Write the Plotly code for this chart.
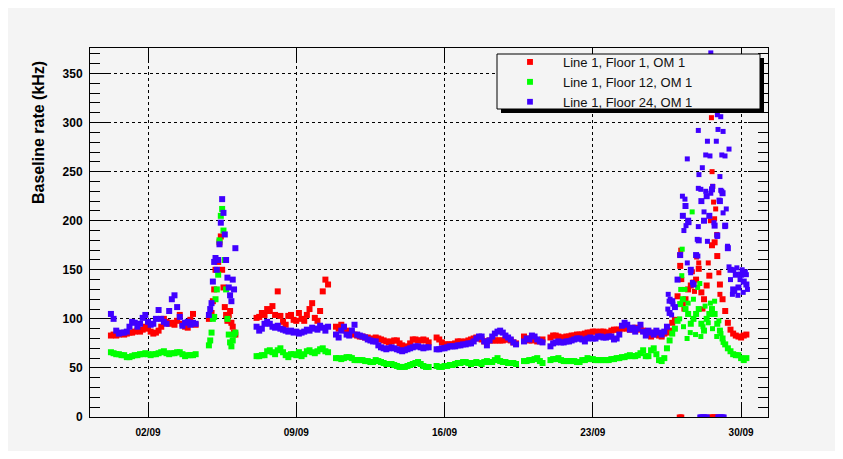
import pandas as pd
import plotly.graph_objects as go

# ---------------- data (days since 31/08 00:00) ----------------
BASE = pd.Timestamp("2006-08-31")
STEP = 0.125          # 3-hour sampling
STEP_SPIKE = 0.0625   # 1.5-hour sampling in the 05/09 burst

start_a, start_b, start_c, start_d = 0.25, 4.875, 7.125, 10.875
start_e, start_f, start_g, start_h = 15.625, 19.75, 21.0, 25.625

# Line 1, Floor 1, OM 1 (red)
f1_a = [83, 84, 83, 84, 85, 84, 85, 86, 86, 87, 88, 87, 89, 92, 90, 87, 85, 86, 88, 92,
        100, 97, 95, 96, 94, 98, 104, 95, 92, 91, 99, 105, 94]
f1_b = [100, 104, 106, 118, 130, 150, 160, 158, 178, 184, 150, 132, 112, 104, 98, 104, 108, 96, 92, 86, 84]
f1_c = [101, 102, 106, 104, 110, 108, 113, 104, 128, 103, 97, 94, 103, 104, 99, 98, 106, 100, 98, 104,
        110, 116, 101, 98, 108, 128, 140, 135]
f1_d = [92, 90, 94, 91, 88, 86, 85, 84, 83, 82, 82, 81, 81, 80, 78, 81, 80, 79, 78, 77,
        76, 77, 78, 78, 75, 73, 71, 72, 75, 79, 79, 78, 78, 79, 78, 76]
f1_e = [81, 79, 76, 74, 74, 74, 74, 75, 77, 77, 76, 77, 78, 79, 80, 81, 80, 79, 77, 77,
        78, 78, 78, 78, 78, 78, 79, 79, 78, 76, 75]
f1_f = [82, 80, 78, 78, 79, 77, 78, 79]
f1_g = [81, 83, 83, 82, 81, 81, 82, 82, 83, 83, 84, 84, 84, 85, 86, 86, 87, 87, 86, 87,
        87, 86, 86, 88, 89, 89, 89, 90, 91, 90, 89, 90, 91, 90, 89, 88, 87]
f1_h = [84, 82, 86, 84, 83, 82, 85, 86, 88, 96, 99, 123, 154, 116, 120, 130, 134, 137, 140, 151,
        127, 120, 134, 144, 175, 178, 164, 135, 120, 108, 96, 89, 85, 83, 82, 81, 83, 84]
f1_extra_t = [27.1, 27.15, 27.2, 27.3, 27.7, 27.8, 27.9, 28.0, 28.2, 28.45, 28.55, 28.6, 28.63,
              28.66, 28.7, 28.75, 28.8, 28.85, 28.95, 29.0,
              27.08, 27.15, 27.2, 28.56, 28.62, 28.68, 28.74, 28.8, 28.85]
f1_extra_v = [165, 170, 140, 110, 148, 128, 163, 157, 110, 157, 200, 305, 250,
              235, 219, 202, 212, 186, 147, 125,
              0, 0, 0, 0, 0, 0, 0, 0, 0]

# Line 1, Floor 12, OM 1 (green)
f12_a = [66, 65, 64, 64, 63, 63, 61, 61, 62, 63, 63, 64, 64, 65, 64, 63, 64, 64, 65, 66,
         67, 65, 64, 65, 65, 66, 66, 64, 62, 63, 63, 63, 64]
f12_b = [73, 78, 86, 100, 102, 120, 130, 145, 180, 205, 212, 190, 160, 130, 100, 84, 76, 72, 78, 84, 86]
f12_c = [62, 62, 63, 63, 67, 68, 66, 64, 68, 70, 66, 63, 61, 64, 64, 63, 66, 62, 64, 67,
         68, 66, 65, 67, 69, 70, 67, 66]
f12_d = [60, 60, 59, 60, 61, 61, 60, 58, 58, 58, 58, 57, 57, 56, 56, 58, 57, 56, 55, 54,
         54, 54, 53, 52, 51, 51, 51, 52, 53, 54, 55, 56, 54, 52, 51, 51]
f12_e = [52, 51, 51, 52, 52, 53, 53, 54, 55, 55, 56, 56, 55, 54, 55, 56, 55, 54, 56, 57,
         56, 56, 58, 60, 57, 56, 56, 55, 55, 55, 54]
f12_f = [57, 57, 58, 58, 59, 60, 57, 55]
f12_g = [58, 59, 59, 60, 58, 57, 57, 57, 57, 57, 56, 56, 58, 58, 60, 59, 59, 58, 58, 58,
         58, 58, 58, 59, 59, 60, 60, 61, 61, 62, 63, 62, 62, 63, 65, 68, 62]
f12_h = [62, 68, 70, 64, 58, 57, 60, 70, 78, 85, 90, 98, 115, 120, 110, 105, 95, 100, 105, 110,
         95, 88, 100, 105, 110, 105, 95, 88, 80, 74, 70, 67, 64, 63, 63, 60, 58, 60]
f12_extra_t = [27.1, 27.15, 27.2, 27.22, 27.28, 27.35, 27.45, 27.5, 27.69, 27.6, 27.75, 27.85,
               27.95, 28.05, 28.1, 28.2, 28.3, 28.45, 28.55, 28.65, 28.75, 28.85, 28.95, 29.05, 29.15]
f12_extra_v = [100, 130, 144, 171, 92, 130, 80, 116, 209, 86, 120, 84,
               132, 136, 82, 92, 113, 96, 116, 90, 118, 82, 98, 85, 76]

# Line 1, Floor 24, OM 1 (blue)
f24_a = [105, 100, 88, 85, 86, 86, 87, 92, 97, 96, 92, 95, 101, 104, 97, 94, 95, 100, 109, 100,
         97, 95, 108, 120, 124, 112, 102, 93, 96, 97, 94, 96, 95]
f24_b = [104, 110, 116, 138, 158, 162, 150, 160, 176, 198, 222, 208, 186, 160, 142, 132, 124, 118, 140, 130, 172]
f24_c = [92, 88, 90, 95, 97, 95, 92, 91, 93, 90, 89, 88, 87, 88, 86, 87, 85, 86, 87, 89,
         88, 91, 90, 89, 93, 91, 88, 92]
f24_d = [84, 81, 88, 92, 84, 83, 88, 94, 84, 83, 82, 81, 79, 78, 77, 77, 73, 71, 70, 69,
         70, 71, 70, 69, 68, 67, 68, 69, 70, 71, 72, 72, 71, 70, 71, 71]
f24_e = [69, 69, 70, 70, 71, 72, 72, 72, 73, 73, 74, 74, 75, 75, 77, 80, 82, 82, 77, 73,
         78, 82, 85, 87, 88, 86, 83, 81, 79, 76, 74]
f24_f = [77, 80, 79, 83, 82, 79, 77, 76]
f24_g = [72, 75, 76, 77, 76, 76, 77, 77, 78, 79, 80, 80, 79, 77, 80, 81, 80, 80, 82, 82,
         81, 81, 82, 82, 79, 80, 84, 93, 96, 94, 89, 91, 87, 90, 94, 87, 83]
f24_h = [88, 86, 84, 88, 86, 84, 87, 92, 106, 118, 112, 140, 165, 205, 215, 200, 150, 135, 165, 180,
         220, 200, 225, 205, 232, 195, 185, 220, 228, 195, 172, 150, 130, 145, 132, 145, 138, 135]
f24_extra_t = [26.54, 26.56, 26.6, 26.65, 26.72, 26.78, 27.23, 27.3, 27.35, 27.4, 27.46, 27.46,
               27.54, 27.62, 27.7, 27.93, 27.96, 27.98, 27.98, 27.98, 28.01, 28.1, 28.17, 28.25,
               28.33, 28.33, 28.41, 28.41, 28.53, 28.57, 28.57, 28.66, 28.72, 28.83, 28.88, 28.88,
               28.91, 28.96, 29.0, 29.04, 29.04, 29.09, 29.09, 29.15, 29.15, 29.24, 29.24, 29.3,
               29.36, 29.43, 29.43, 29.5, 29.59, 29.65, 29.7, 29.8, 29.85, 29.95, 30.05, 30.1,
               30.2, 30.25, 30.3,
               28.05, 28.1, 28.15, 28.2, 28.25, 28.3, 28.35, 28.4,
               28.9, 28.95, 29.0, 29.05, 29.1, 29.15, 29.2]
f24_extra_v = [110, 125, 118, 120, 104, 115, 225, 190, 222, 195, 263, 157,
               198, 147, 137, 181, 164, 194, 233, 292, 247, 232, 254, 209,
               267, 230, 179, 281, 266, 371, 228, 235, 198, 281, 308, 184,
               293, 221, 245, 306, 231, 267, 230, 291, 208, 266, 194, 212,
               174, 273, 153, 140, 125, 150, 128, 152, 124, 140, 150, 127,
               148, 145, 130,
               0, 0, 0, 0, 0, 0, 0, 0,
               0, 0, 0, 0, 0, 0, 0]

names = ["Line 1, Floor 1, OM 1", "Line 1, Floor 12, OM 1", "Line 1, Floor 24, OM 1"]
colors = ["#ff0000", "#00ff00", "#4000ff"]
y_ticks = [0, 50, 100, 150, 200, 250, 300, 350]

BAND_SIZE, EXTRA_SIZE = 6, 5


def assemble(segments, extra_t, extra_v):
    days, vals, sizes = [], [], []
    for start, step, values in segments:
        days += [start + step * i for i in range(len(values))]
        vals += values
        sizes += [BAND_SIZE] * len(values)
    days += extra_t
    vals += extra_v
    sizes += [EXTRA_SIZE] * len(extra_v)
    times = BASE + pd.to_timedelta(days, unit="D")
    return times, vals, sizes


series = [
    assemble([(start_a, STEP, f1_a), (start_b, STEP_SPIKE, f1_b), (start_c, STEP, f1_c),
              (start_d, STEP, f1_d), (start_e, STEP, f1_e), (start_f, STEP, f1_f),
              (start_g, STEP, f1_g), (start_h, STEP, f1_h)], f1_extra_t, f1_extra_v),
    assemble([(start_a, STEP, f12_a), (start_b, STEP_SPIKE, f12_b), (start_c, STEP, f12_c),
              (start_d, STEP, f12_d), (start_e, STEP, f12_e), (start_f, STEP, f12_f),
              (start_g, STEP, f12_g), (start_h, STEP, f12_h)], f12_extra_t, f12_extra_v),
    assemble([(start_a, STEP, f24_a), (start_b, STEP_SPIKE, f24_b), (start_c, STEP, f24_c),
              (start_d, STEP, f24_d), (start_e, STEP, f24_e), (start_f, STEP, f24_f),
              (start_g, STEP, f24_g), (start_h, STEP, f24_h)], f24_extra_t, f24_extra_v),
]

# ---------------- figure ----------------
# page body has an 8px margin; the figure itself is 827 x 443
OFF = 8
W, H = 827, 443
L, R, T, B = 82, 67, 40, 34
PW, PH = W - L - R, H - T - B


def xp(sx):  # screen x -> paper
    return (sx - OFF - L) / PW


def yp(sy):  # screen y -> paper
    return (H - B - (sy - OFF)) / PH


fig = go.Figure()
for (t, v, s), name, col in zip(series, names, colors):
    fig.add_trace(go.Scatter(x=t, y=v, mode="markers", name=name,
                             marker=dict(symbol="square", size=s, color=col, opacity=1,
                                         line=dict(width=0))))

bg = "#f4f4f4"
shapes = [
    dict(type="rect", xref="paper", yref="paper", layer="above",
         x0=xp(501), x1=xp(764), y0=yp(113), y1=yp(58), fillcolor="black", line=dict(width=0)),
    dict(type="rect", xref="paper", yref="paper", layer="above",
         x0=xp(497), x1=xp(760), y0=yp(109), y1=yp(54), fillcolor=bg,
         line=dict(color="black", width=1)),
]

fig.update_layout(
    width=W, height=H,
    margin=dict(l=L, r=R, t=T, b=B, pad=0),
    paper_bgcolor=bg, plot_bgcolor=bg,
    shapes=shapes,
    showlegend=True,
    legend=dict(x=xp(497), y=yp(47), xanchor="left", yanchor="top",
                bgcolor="rgba(0,0,0,0)", borderwidth=0, itemwidth=56,
                font=dict(family="Liberation Sans", size=13, color="#111"),
                tracegroupgap=0, itemsizing="trace"),
    annotations=[dict(text="<b>Baseline rate (kHz)</b>", textangle=-90,
                      xref="paper", yref="paper", x=xp(38), y=yp(133),
                      xanchor="center", yanchor="middle", showarrow=False,
                      font=dict(family="Liberation Sans", size=16, color="black"))],
)

fig.update_xaxes(
    type="date",
    range=[pd.Timestamp("2006-08-30 06:17"), pd.Timestamp("2006-10-01 06:29")],
    tick0="2006-09-02", dtick=7 * 86400000, tickformat="%d/%m",
    ticks="inside", ticklen=12, tickcolor="black", tickwidth=1,
    showline=True, linecolor="black", linewidth=1, mirror="ticks",
    showgrid=True, gridcolor="black", gridwidth=1, griddash="dot",
    tickfont=dict(family="Liberation Sans", size=10, color="black", weight="bold"),
    ticklabelstandoff=6, zeroline=False,
)
fig.update_yaxes(
    range=[0, 376], tickvals=y_ticks,
    ticks="inside", ticklen=20, tickcolor="black", tickwidth=1,
    minor=dict(dtick=10, ticks="inside", ticklen=10, tickcolor="black", showgrid=False),
    showline=True, linecolor="black", linewidth=1, mirror="ticks",
    showgrid=True, gridcolor="black", gridwidth=1, griddash="dot",
    tickfont=dict(family="Liberation Sans", size=12, color="black", weight="bold"),
    ticklabelstandoff=4, zeroline=False,
)

fig.write_html("out.html")
